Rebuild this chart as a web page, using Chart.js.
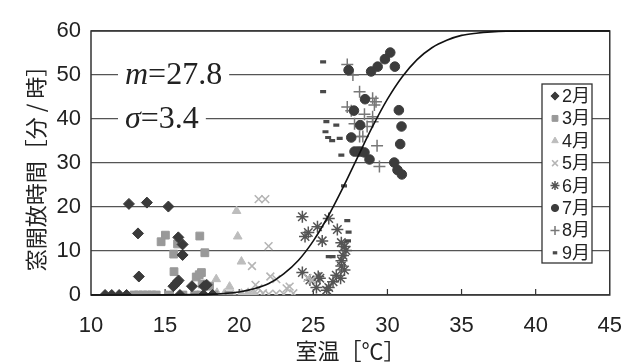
<!DOCTYPE html>
<html>
<head>
<meta charset="utf-8">
<script src="https://cdn.jsdelivr.net/npm/chart.js@4.4.0/dist/chart.umd.min.js"></script>
<style>body{margin:0;background:#fff}</style>
</head>
<body>
<canvas id="chart" width="640" height="364"></canvas>
<script>
// monthly observations: [room temperature, window-open minutes per hour]
var months = ['2月', '3月', '4月', '5月', '6月', '7月', '8月', '9月'];

var feb = [[10.95, 0], [11.4, 0], [11.9, 0], [12.4, 0], [16.0, 0], [17.6, 0], [18.2, 0],
  [12.56, 20.7], [13.77, 21.0], [15.22, 20.1], [13.17, 14.0], [15.89, 13.1], [16.18, 11.5],
  [16.18, 9.1], [13.23, 4.2], [15.78, 2.8], [15.91, 3.3], [15.56, 2.0], [16.81, 2.0],
  [17.63, 2.0], [17.81, 2.3]];
var mar = [[12.9, 0], [13.2, 0], [13.5, 0], [13.8, 0], [14.1, 0], [14.4, 0], [15.3, 0],
  [16.2, 0], [17.0, 0], [17.4, 0], [18.3, 0], [19.3, 0], [15.02, 13.6], [14.73, 12.1],
  [15.84, 11.6], [17.34, 13.4], [15.58, 9.3], [17.68, 9.6], [15.6, 5.3], [17.45, 5.1],
  [17.1, 4.1], [17.3, 4.6], [17.5, 2.5], [18.0, 2.0]];
var apr = [[19.82, 19.1], [19.9, 13.3], [20.15, 7.6], [18.45, 3.6], [19.35, 1.9],
  [18.5, 0.5], [19.0, 0.3], [20.15, 0.3], [19.6, 0], [20.6, 0.5], [21.0, 0]];
var may = [[21.31, 21.8], [21.76, 21.8], [21.98, 11.1], [20.86, 6.6], [22.1, 4.2],
  [22.5, 3.6], [23.2, 1.5], [23.4, 1.9], [21.1, 2.3], [21.3, 1.5], [20.7, 0.3], [21.2, 0.3],
  [21.6, 0.4], [22.0, 0.2], [22.5, 0.3], [23.0, 0.2], [23.65, 0.4], [24.9, 3.4], [24.6, 3.9]];
var jun = [[24.26, 17.8], [26.04, 17.4], [25.28, 15.5], [26.62, 14.9], [24.66, 14.2],
  [24.44, 13.3], [25.6, 12.3], [26.89, 11.9], [27.1, 11.0], [27.2, 10.1], [27.0, 9.0],
  [26.9, 7.8], [26.89, 6.6], [27.1, 5.7], [26.55, 4.5], [26.84, 3.8], [25.44, 3.8],
  [26.33, 3.0], [25.21, 1.7], [26.04, 1.7], [25.9, 1.1], [24.26, 5.1], [24.77, 3.4],
  [25.33, 4.2]];
var jul = [[30.19, 55.1], [29.83, 53.6], [29.34, 51.9], [28.9, 50.8], [30.5, 51.9],
  [27.38, 51.1], [28.49, 44.5], [27.74, 41.9], [30.77, 42.0], [28.16, 38.6], [30.95, 38.3],
  [27.56, 35.8], [30.86, 34.3], [27.78, 32.6], [28.0, 32.6], [28.2, 32.6], [28.45, 32.4],
  [28.79, 30.8], [30.46, 30.1], [30.68, 28.4], [30.97, 27.4]];
var aug = [[27.29, 52.4], [27.67, 50.0], [28.12, 46.2], [29.0, 44.7], [29.23, 43.9],
  [29.12, 43.2], [27.29, 42.7], [27.56, 41.9], [28.45, 41.1], [29.0, 40.5], [27.78, 38.9],
  [28.63, 38.3], [29.0, 39.4], [28.12, 36.0], [28.34, 36.0], [29.3, 33.9], [29.46, 29.2]];
var sep = [[25.66, 53.0], [25.66, 46.2], [25.88, 39.4], [26.55, 38.6], [25.82, 37.1],
  [26.0, 35.8], [26.27, 35.1], [26.78, 35.6], [26.89, 31.8], [27.07, 24.8], [27.29, 16.9],
  [27.38, 14.3], [27.34, 12.3], [26.04, 8.7], [26.3, 8.7]];

// fitted curve (m=27.8, sigma=3.4)
var curveTemp = [10, 15, 17, 18, 19, 20, 21, 22, 23, 24, 25, 26, 27, 28, 29, 30, 31, 32, 33, 34, 35, 36, 37, 38, 40, 45];
var curveMinutes = [0, 0.02, 0.08, 0.15, 0.35, 0.7, 1.4, 2.6, 4.8, 7.9, 12.3, 17.9, 24.4, 31.4, 38.3, 44.5, 49.6, 53.5, 56.2, 57.9, 59.0, 59.5, 59.8, 59.95, 60, 60];

var monthData = [feb, mar, apr, may, jun, jul, aug, sep];
var styles = [
  {shape: 'rectRot', r: 5.5, color: '#3a3a3a', bw: 1},
  {shape: 'rect', r: 5.5, color: '#999999', bw: 1},
  {shape: 'triangle', r: 5, color: '#bdbdbd', bw: 1},
  {shape: 'crossRot', r: 5.5, color: '#b5b5b5', bw: 1.6},
  {shape: 'star', r: 6, color: '#555555', bw: 1.5},
  {shape: 'circle', r: 4.8, color: '#3c3c3c', bw: 1},
  {shape: 'cross', r: 6, color: '#777777', bw: 1.5},
  {shape: 'line', r: 3, color: '#4a4a4a', bw: 3.2}
];

var sans = "'Liberation Sans', 'Noto Sans CJK JP', sans-serif";
var cjk = "'Noto Sans CJK JP', sans-serif";

var datasets = months.map(function (m, i) {
  var s = styles[i];
  return {
    label: m,
    data: monthData[i].map(function (p) { return {x: p[0], y: p[1]}; }),
    pointStyle: s.shape,
    pointRadius: s.r,
    pointBorderWidth: s.bw,
    backgroundColor: s.color,
    borderColor: s.color,
    order: 1
  };
});
datasets.push({
  label: 'fit',
  data: curveTemp.map(function (t, i) { return {x: t, y: curveMinutes[i]}; }),
  showLine: true,
  pointRadius: 0,
  borderColor: '#111',
  borderWidth: 1.6,
  cubicInterpolationMode: 'monotone',
  clip: false,
  order: 0
});

function drawFit(ctx, sym, rest, x, gridY) {
  ctx.font = 'italic 32px "Liberation Serif"';
  var w1 = ctx.measureText(sym).width;
  ctx.font = '32px "Liberation Serif"';
  var w2 = ctx.measureText(rest).width;
  ctx.fillStyle = '#fff';
  ctx.fillRect(x - 7, gridY - 3, w1 + w2 + 14, 6);
  ctx.fillStyle = '#222';
  ctx.textBaseline = 'alphabetic';
  ctx.textAlign = 'left';
  ctx.font = 'italic 32px "Liberation Serif"';
  ctx.fillText(sym, x, gridY + 9);
  ctx.font = '32px "Liberation Serif"';
  ctx.fillText(rest, x + w1, gridY + 9);
}

var decorations = {
  id: 'decorations',
  beforeDatasetsDraw: function (chart) {
    var ctx = chart.ctx, a = chart.chartArea, xs = chart.scales.x, ys = chart.scales.y;
    ctx.save();
    ctx.strokeStyle = '#333';
    ctx.lineWidth = 1.2;
    xs.ticks.forEach(function (t) {
      if (t.value <= xs.min || t.value >= xs.max) return;
      var px = xs.getPixelForValue(t.value);
      ctx.beginPath();
      ctx.moveTo(px, a.bottom);
      ctx.lineTo(px, a.bottom - 6);
      ctx.stroke();
    });
    ctx.lineWidth = 1.5;
    ctx.strokeRect(a.left, a.top, a.right - a.left, a.bottom - a.top);
    drawFit(ctx, 'm', '=27.8', 125, ys.getPixelForValue(50));
    drawFit(ctx, 'σ', '=3.4', 125, ys.getPixelForValue(40));
    ctx.restore();
  },
  afterDraw: function (chart) {
    var ctx = chart.ctx;
    var left = 542, top = 84, w = 50, h = 179;
    ctx.save();
    ctx.fillStyle = '#fff';
    ctx.fillRect(left, top, w, h);
    ctx.strokeStyle = '#333';
    ctx.lineWidth = 1.3;
    ctx.strokeRect(left, top, w, h);
    months.forEach(function (m, i) {
      var s = styles[i];
      var y = top + 12 + i * 22.4;
      ctx.fillStyle = s.color;
      ctx.strokeStyle = s.color;
      ctx.lineWidth = s.bw;
      Chart.helpers.drawPoint(ctx, {pointStyle: s.shape, radius: s.r * 0.75, rotation: 0, borderWidth: s.bw}, left + 13, y);
      ctx.fillStyle = '#222';
      ctx.font = '18px ' + sans;
      ctx.textBaseline = 'middle';
      ctx.textAlign = 'left';
      ctx.fillText(m, left + 20, y + 1);
    });
    ctx.restore();
  }
};

new Chart(document.getElementById('chart'), {
  type: 'scatter',
  data: {datasets: datasets},
  options: {
    responsive: false,
    animation: false,
    layout: {padding: {top: 31, right: 26, left: 0, bottom: 0}},
    plugins: {legend: {display: false}, tooltip: {enabled: false}},
    scales: {
      x: {
        type: 'linear', min: 10, max: 45,
        ticks: {stepSize: 5, padding: 18, color: '#222', font: {size: 22, family: sans}},
        grid: {display: false, drawTicks: false},
        border: {display: false},
        title: {display: true, text: '室温［℃］', color: '#222', font: {size: 22, family: cjk}, padding: {top: 0, bottom: 0}},
        afterFit: function (s) { s.height = 69; }
      },
      y: {
        min: 0, max: 60,
        ticks: {stepSize: 10, padding: 10, color: '#222', font: {size: 22, family: sans}},
        grid: {color: '#555', lineWidth: 1.2, drawTicks: false},
        border: {display: false},
        title: {display: true, text: '窓開放時間［分 / 時］', color: '#222', font: {size: 22, family: cjk}, padding: {top: 22, bottom: 0}},
        afterFit: function (s) { s.width = 91; }
      }
    }
  },
  plugins: [decorations]
});
</script>
</body>
</html>
